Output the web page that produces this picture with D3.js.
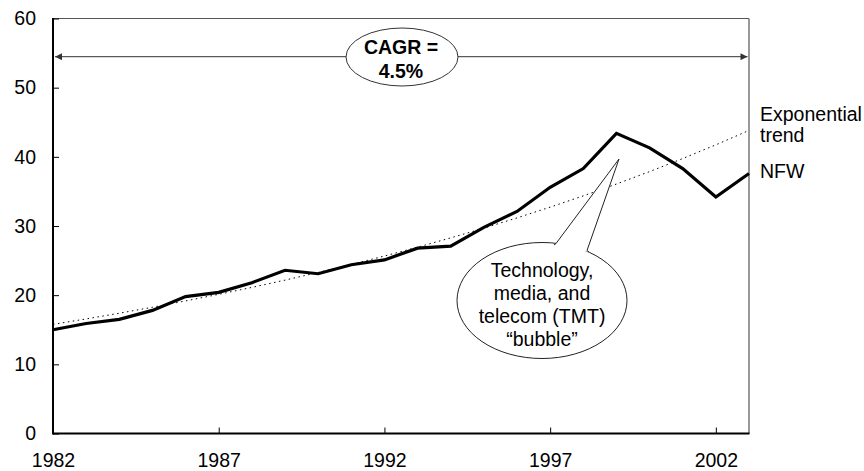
<!DOCTYPE html>
<html>
<head>
<meta charset="utf-8">
<script src="https://cdn.jsdelivr.net/npm/d3@7"></script>
<style>
  html, body { margin: 0; padding: 0; background: #fff; }
  svg { display: block; font-family: "Liberation Sans", Arial, sans-serif; }
</style>
</head>
<body>
<svg id="chart" width="864" height="471"></svg>
<script>
// ---- data ----
const years = [1982, 1983, 1984, 1985, 1986, 1987, 1988, 1989, 1990, 1991, 1992,
               1993, 1994, 1995, 1996, 1997, 1998, 1999, 2000, 2001, 2002, 2003];
const nfw = [15.0, 15.9, 16.5, 17.8, 19.8, 20.4, 21.8, 23.6, 23.1, 24.4, 25.1,
             26.8, 27.1, 29.8, 32.1, 35.6, 38.3, 43.4, 41.3, 38.3, 34.2, 37.6];
const xTickLabels = [1982, 1987, 1992, 1997, 2002];
const yTickLabels = [0, 10, 20, 30, 40, 50, 60];
const cagrLines = ["CAGR =", "4.5%"];
const calloutLines = ["Technology,", "media, and", "telecom (TMT)", "\u201Cbubble\u201D"];
const trendLabel = ["Exponential", "trend"];
const nfwLabel = ["NFW"];

// ---- exponential trend (least squares fit on log values) ----
const lx = years.map(v => v - years[0]);
const ly = nfw.map(v => Math.log(v));
const mx = d3.mean(lx), my = d3.mean(ly);
const slope = d3.sum(lx.map((v, i) => (v - mx) * (ly[i] - my))) / d3.sum(lx.map(v => (v - mx) ** 2));
const icpt = my - slope * mx;
const trend = years.map(v => Math.exp(icpt + slope * (v - years[0])));

// ---- layout ----
const svg = d3.select("#chart");
const pL = 53, pR = 749, pT = 18.5, pB = 433.5;
const x = d3.scaleLinear().domain([1982, 2003]).range([pL, pR]);
const y = d3.scaleLinear().domain([0, 60]).range([pB, pT]);
const fontSize = 19.5;

const defs = svg.append("defs");
defs.append("marker").attr("id", "arr").attr("viewBox", "0 0 10 10")
  .attr("refX", 10).attr("refY", 5).attr("markerWidth", 9).attr("markerHeight", 7)
  .attr("markerUnits", "userSpaceOnUse").attr("orient", "auto-start-reverse")
  .append("path").attr("d", "M0,0 L10,5 L0,10 Z").attr("fill", "#333");

// frame (top and right)
svg.append("line").attr("x1", pL).attr("x2", pR).attr("y1", pT).attr("y2", pT)
  .attr("stroke", "#555").attr("stroke-width", 1.2);
svg.append("line").attr("x1", pR).attr("x2", pR).attr("y1", pT).attr("y2", pB)
  .attr("stroke", "#777").attr("stroke-width", 1.5);

// axes
const xAxis = d3.axisBottom(x).tickValues(xTickLabels).tickFormat(d3.format("d"))
  .tickSizeInner(-6).tickSizeOuter(0).tickPadding(19.7);
const gx = svg.append("g").attr("transform", `translate(0,${pB})`).call(xAxis);
const yAxis = d3.axisLeft(y).tickValues(yTickLabels).tickSizeInner(-6).tickSizeOuter(0).tickPadding(17);
const gy = svg.append("g").attr("transform", `translate(${pL},0)`).call(yAxis);
[gx, gy].forEach(g => {
  g.select(".domain").remove();
  g.selectAll(".tick line").attr("stroke", "#000").attr("stroke-width", 1);
  g.selectAll(".tick text").attr("fill", "#000").style("font-size", fontSize + "px")
    .style("font-family", '"Liberation Sans", Arial, sans-serif');
});
gx.selectAll(".tick").filter(d => d === 1982).select("line").remove();

svg.append("line").attr("x1", pL).attr("x2", pR + 0.5).attr("y1", pB).attr("y2", pB)
  .attr("stroke", "#000").attr("stroke-width", 2);
svg.append("line").attr("x1", pL).attr("x2", pL).attr("y1", pT - 0.5).attr("y2", pB + 1)
  .attr("stroke", "#000").attr("stroke-width", 2);

// trend line
const line = d3.line().x((d, i) => x(years[i])).y(d => y(d));
svg.append("path").datum(trend).attr("d", line).attr("fill", "none")
  .attr("stroke", "#000").attr("stroke-width", 1).attr("stroke-dasharray", "1.5,3.5");

// NFW line
svg.append("path").datum(nfw).attr("d", line).attr("fill", "none")
  .attr("stroke", "#000").attr("stroke-width", 3.2).attr("stroke-linejoin", "miter");

// CAGR arrow + ellipse
const cagrCx = 402, cagrCy = 57, cagrRx = 56, cagrRy = 29;
const arrowY = 56.7;
svg.append("line").attr("x1", cagrCx - cagrRx).attr("x2", x(1982) + 2).attr("y1", arrowY).attr("y2", arrowY)
  .attr("stroke", "#333").attr("stroke-width", 1).attr("marker-end", "url(#arr)");
svg.append("line").attr("x1", cagrCx + cagrRx).attr("x2", x(2003) - 1.5).attr("y1", arrowY).attr("y2", arrowY)
  .attr("stroke", "#333").attr("stroke-width", 1).attr("marker-end", "url(#arr)");
svg.append("ellipse").attr("cx", cagrCx).attr("cy", cagrCy).attr("rx", cagrRx).attr("ry", cagrRy)
  .attr("fill", "#fff").attr("stroke", "#333").attr("stroke-width", 1);
svg.append("g").selectAll("text").data(cagrLines).join("text")
  .attr("x", 401).attr("y", (d, i) => 54.3 + i * 23.4)
  .attr("text-anchor", "middle").style("font-size", "19.5px").style("font-weight", "bold")
  .text(d => d);

// callout bubble
const bx = 542, by = 300.5, brx = 85, bry = 58;
const tip = [619, 159];
const p1 = [556, 243.5], p2 = [587, 250.5];
svg.append("ellipse").attr("cx", bx).attr("cy", by).attr("rx", brx).attr("ry", bry)
  .attr("fill", "#fff").attr("stroke", "#222").attr("stroke-width", 1);
svg.append("path").attr("d", `M${p1[0] - 2},${p1[1] + 1.5} L${p1[0]},${p1[1]} L${tip[0]},${tip[1]} L${p2[0]},${p2[1]} L${p2[0] + 2},${p2[1] + 1.5}`)
  .attr("fill", "#fff").attr("stroke", "#222").attr("stroke-width", 1);
svg.append("g").selectAll("text").data(calloutLines).join("text")
  .attr("x", bx).attr("y", (d, i) => 276.7 + i * 23)
  .attr("text-anchor", "middle").style("font-size", fontSize + "px").text(d => d);

// series labels
svg.append("g").selectAll("text").data(trendLabel).join("text")
  .attr("x", 760).attr("y", (d, i) => 120.5 + i * 21.3)
  .style("font-size", fontSize + "px").text(d => d);
svg.append("text").attr("x", 760).attr("y", 177.7)
  .style("font-size", fontSize + "px").text(nfwLabel[0]);
</script>
</body>
</html>
